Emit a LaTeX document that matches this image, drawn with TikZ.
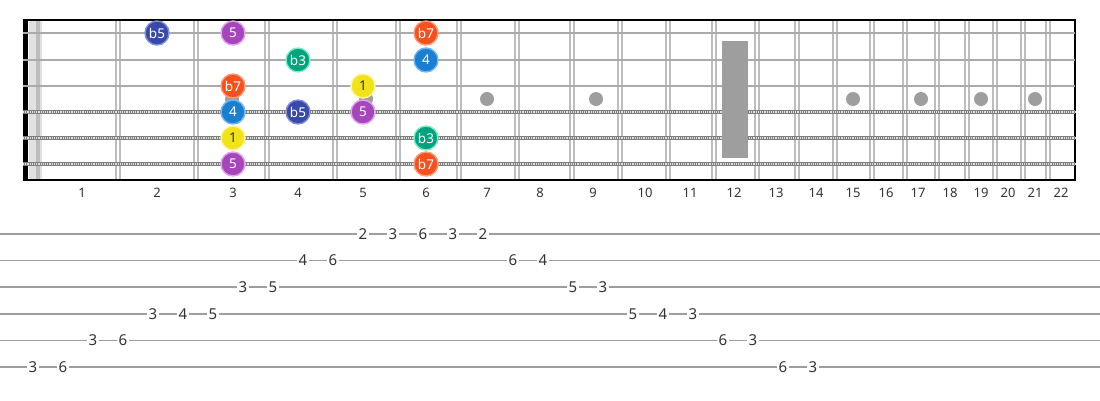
\documentclass[tikz,border=0pt]{standalone}
\usepackage{fontspec}
\setmainfont{Noto Sans}
\usetikzlibrary{positioning}

\definecolor{fretgray}{HTML}{BDBDBD}
\definecolor{inlaygray}{HTML}{9E9E9E}
\definecolor{numgray}{HTML}{333333}
\definecolor{degone}{HTML}{F2E21A}
\definecolor{degoneedge}{HTML}{FFF59D}
\definecolor{degthree}{HTML}{00A47C}
\definecolor{degthreeedge}{HTML}{7FEBCB}
\definecolor{degfour}{HTML}{1B7FD1}
\definecolor{degfouredge}{HTML}{6FB8F2}
\definecolor{degfive}{HTML}{A546BC}
\definecolor{degfiveedge}{HTML}{E3A3EF}
\definecolor{degflatfive}{HTML}{3949AB}
\definecolor{degflatfiveedge}{HTML}{8390D6}
\definecolor{degseven}{HTML}{F4511E}
\definecolor{degsevenedge}{HTML}{FF9A78}

\tikzset{
    notedot/.style={circle,minimum size=24pt,inner sep=0pt,line width=1.4pt,
        font=\fontsize{13.5}{13.5}\selectfont,text=white},
    deg1/.style={notedot,fill=degone,draw=degoneedge,text=numgray},
    degb3/.style={notedot,fill=degthree,draw=degthreeedge},
    deg4/.style={notedot,fill=degfour,draw=degfouredge},
    deg5/.style={notedot,fill=degfive,draw=degfiveedge},
    degb5/.style={notedot,fill=degflatfive,draw=degflatfiveedge},
    degb7/.style={notedot,fill=degseven,draw=degsevenedge},
    fretnum/.style={font=\fontsize{13}{13}\selectfont,text=numgray},
    tabnum/.style={fill=white,inner sep=2pt,font=\fontsize{15}{15}\selectfont,text=numgray}
}

\begin{document}
\begin{tikzpicture}[x=1pt,y=-1pt]
        \useasboundingbox (0,0) rectangle (1100,400);

        % Fretboard
        \path [fill=fretgray!45] (29,20) rectangle (42,180);
        \path [fill=fretgray] (36,20) rectangle (40,180);
        \foreach \fx in {118,196,267,335,398,459,517,572,620,668,714,757,797,835,872,905,937,967,995,1023,1048}
            \draw [fretgray,line width=1.3pt,double=white,double distance=2.6pt] (\fx,20) -- (\fx,180);
        \draw [line width=5pt] (25.5,20) -- (25.5,180);
        \draw [line width=1.5pt] (23,20) -- (1075,20);
        \draw [line width=1.5pt] (23,180) -- (1075,180);
        \draw [line width=2pt] (1075,19.25) -- (1075,180.75);

        % Strings
        \foreach \sy in {33,60,86}
            \draw [fretgray!90!black,line width=2.6pt] (23,\sy) -- (1075,\sy);
        \foreach \sy in {112,138,164} {
            \draw [inlaygray!80!black,line width=3.6pt] (23,\sy) -- (1075,\sy);
            \draw [white!75!gray,line width=1.4pt,dash pattern=on 1.1pt off 1.1pt] (23,\sy) -- (1075,\sy);
        }

        % Inlays
        \foreach \dx in {232,366,487,596,853,921,981,1035}
            \path [fill=inlaygray] (\dx,99) circle (7);
        \path [fill=inlaygray] (722,41) rectangle (748,158);

        % Fret numbers
        \foreach \lx [count=\f] in {82,157,233,298,363,426,487,540,593,645,690,734,776,816,853,886,918,950,981,1008,1035,1061}
            \node [fretnum] (fn\f) at (\lx,193) {\f};

        % Notes
        \node [degb5] (s1f2) at (157,33) {b5};
        \node [deg5]  (s1f3) at (233,33) {5};
        \node [degb7] (s1f6) at (426,33) {b7};
        \node [degb3] (s2f4) at (298,60) {b3};
        \node [deg4]  (s2f6) at (426,60) {4};
        \node [degb7] (s3f3) at (233,86) {b7};
        \node [deg1]  (s3f5) at (363,86) {1};
        \node [deg4]  (s4f3) at (233,112) {4};
        \node [degb5] (s4f4) at (298,112) {b5};
        \node [deg5]  (s4f5) at (363,112) {5};
        \node [deg1]  (s5f3) at (233,138) {1};
        \node [degb3] (s5f6) at (426,138) {b3};
        \node [deg5]  (s6f3) at (233,164) {5};
        \node [degb7] (s6f6) at (426,164) {b7};

        % Tab
        \foreach \ty in {234,260.6,287.2,313.8,340.4,367}
            \draw [inlaygray,line width=1.6pt] (0,\ty) -- (1100,\ty);
        \foreach \num/\ln [count=\i from 0] in {3/6,6/6,3/5,6/5,3/4,4/4,5/4,3/3,5/3,4/2,6/2,2/1,3/1,6/1,3/1,2/1,6/2,4/2,5/3,3/3,5/4,4/4,3/4,6/5,3/5,6/6,3/6}
            \node [tabnum] (t\i) at ({33+30*\i},{234+26.6*(\ln-1)}) {\num};

    \end{tikzpicture}
\end{document}
